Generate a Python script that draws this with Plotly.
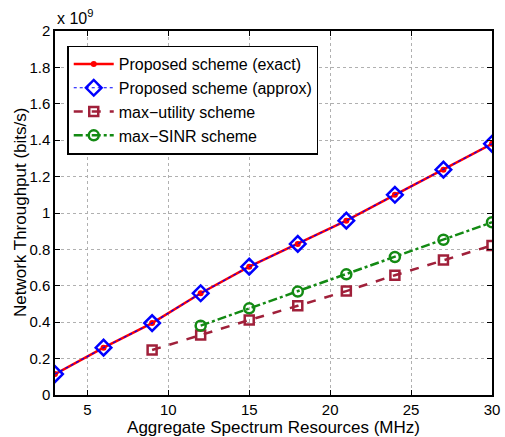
import plotly.graph_objects as go

x_prop = [3, 6, 9, 12, 15, 18, 21, 24, 27, 30]
prop_exact = [0.115, 0.26, 0.395, 0.559, 0.705, 0.83, 0.958, 1.10, 1.238, 1.38]
prop_approx = [0.115, 0.26, 0.395, 0.559, 0.705, 0.83, 0.958, 1.10, 1.238, 1.38]
x_util = [9, 12, 15, 18, 21, 24, 27, 30]
max_util = [0.247, 0.33, 0.412, 0.49, 0.571, 0.658, 0.742, 0.822]
x_sinr = [12, 15, 18, 21, 24, 27, 30]
max_sinr = [0.381, 0.476, 0.568, 0.663, 0.758, 0.853, 0.949]
x_ticks = [5, 10, 15, 20, 25, 30]
y_ticks = [0, 0.2, 0.4, 0.6, 0.8, 1, 1.2, 1.4, 1.6, 1.8, 2]
y_tick_text = ["0", "0.2", "0.4", "0.6", "0.8", "1", "1.2", "1.4", "1.6", "1.8", "2"]

FONT = "Liberation Sans, Arial, sans-serif"

fig = go.Figure()
fig.add_trace(go.Scatter(x=x_prop, y=prop_exact, name="Proposed scheme (exact)",
                         mode="lines+markers",
                         line=dict(color="red", width=2.5),
                         marker=dict(symbol="circle", size=6, color="red")))
fig.add_trace(go.Scatter(x=x_prop, y=prop_approx, name="Proposed scheme (approx)",
                         mode="lines+markers",
                         line=dict(color="blue", width=1.2, dash="dot"),
                         marker=dict(symbol="diamond-open", size=12, color="blue",
                                     line=dict(width=2.5, color="blue"))))
fig.add_trace(go.Scatter(x=x_util, y=max_util, name="max\u2212utility scheme",
                         mode="lines+markers",
                         line=dict(color="#A0203A", width=2.5, dash="dash"),
                         marker=dict(symbol="square-open", size=9, color="#A0203A",
                                     line=dict(width=2.5, color="#A0203A"))))
fig.add_trace(go.Scatter(x=x_sinr, y=max_sinr, name="max\u2212SINR scheme",
                         mode="lines+markers",
                         line=dict(color="#138A13", width=2.5, dash="dashdot"),
                         marker=dict(symbol="circle-open", size=10, color="#138A13",
                                     line=dict(width=2.5, color="#138A13"))))

axis_common = dict(showline=True, linecolor="black", linewidth=1.5, mirror="ticks",
                   ticks="inside", ticklen=5, tickcolor="black", automargin=False,
                   showgrid=True, gridcolor="#b0b0b0", griddash="dot", gridwidth=1,
                   zeroline=False, tickfont=dict(family=FONT, size=15, color="black"))

fig.update_xaxes(range=[3, 30], tickvals=x_ticks,
                 title=dict(text="Aggregate Spectrum Resources (MHz)",
                            font=dict(family=FONT, size=17, color="black")),
                 **axis_common)
fig.update_yaxes(range=[0, 2], tickvals=y_ticks, ticktext=y_tick_text, **axis_common)

fig.add_annotation(text="Network Throughput (bits/s)", xref="paper", yref="paper",
                   x=-35 / 437, y=0.5, xanchor="center", yanchor="middle",
                   textangle=-90, showarrow=False,
                   font=dict(family=FONT, size=17, color="black"))

fig.add_annotation(text="x 10<sup>9</sup>", xref="paper", yref="paper", x=0, y=1.0,
                   xanchor="left", yanchor="bottom", showarrow=False, yshift=2,
                   font=dict(family=FONT, size=16, color="black"))

fig.update_layout(
    width=505, height=437,
    margin=dict(l=55, r=13, t=31, b=42),
    paper_bgcolor="white", plot_bgcolor="white",
    font=dict(family=FONT, size=16, color="black"),
    legend=dict(x=0.028, y=0.96, xanchor="left", yanchor="top",
                bgcolor="white", bordercolor="black", borderwidth=1.5,
                font=dict(family=FONT, size=16, color="black"),
                tracegroupgap=0, itemwidth=40),
)

fig.write_html("out.html")
